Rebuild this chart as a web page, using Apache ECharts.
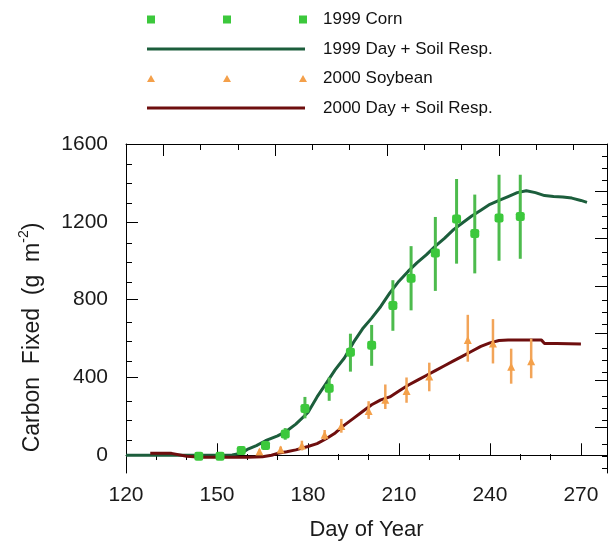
<!DOCTYPE html>
<html lang="en">
<head>
    <meta charset="UTF-8">
    <title>Carbon Fixed</title>
    <script src="https://cdn.jsdelivr.net/npm/echarts@6/dist/echarts.min.js"></script>
</head>
<body style="margin: 0">
<div id="container" style="width: 610px; height: 546px"></div>
<script>
    // 1999 corn observations (day, value, error bar low/high)
    var cornDay = [144, 151, 158, 166, 172.5, 179, 187, 194, 201, 208, 214, 222, 229, 235, 243, 250];
    var cornC = [-5, -5, 25, 50, 110, 240, 345, 530, 565, 770, 910, 1040, 1215, 1140, 1220, 1228];
    var cornLo = [-15, -15, 15, 30, 80, 190, 280, 430, 460, 640, 745, 845, 985, 935, 1000, 1010];
    var cornHi = [5, 5, 35, 70, 140, 300, 400, 625, 670, 900, 1075, 1225, 1420, 1340, 1442, 1442];

    // 2000 soybean observations
    var soyDay = [164, 171, 178, 185.5, 191, 200, 205.5, 212.5, 220, 232.7, 241, 247, 253.6];
    var soyC = [20, 30, 50, 105, 150, 228, 285, 330, 405, 592, 574, 455, 484];
    var soyLo = [10, 15, 25, 80, 116, 187, 238, 270, 329, 481, 472, 368, 396];
    var soyHi = [30, 45, 75, 130, 187, 278, 364, 400, 476, 722, 700, 548, 599];

    // modelled day + soil respiration curves
    var resp1999Day = [120, 125, 130, 135, 140, 145, 150, 155, 158, 160, 163, 166, 170, 173, 176, 180, 183, 186, 189, 192, 195, 198, 201, 204, 207, 210, 213, 216, 219, 222, 225, 228, 231, 234, 237, 240, 243, 246, 249, 252, 255, 258, 261, 264, 267, 270, 272];
    var resp1999C = [0, 0, 0, 0, 0, 0, 0, 2, 10, 30, 50, 75, 100, 125, 160, 220, 300, 370, 440, 500, 580, 650, 705, 765, 835, 895, 945, 990, 1030, 1075, 1115, 1160, 1195, 1230, 1260, 1290, 1310, 1330, 1350, 1360, 1350, 1335, 1330, 1328, 1322, 1310, 1300];
    var resp2000Day = [128, 135, 140, 145, 150, 155, 160, 165, 168, 170, 173, 176, 180, 183, 186, 189, 192, 195, 198, 201, 204, 207, 210, 213, 216, 219, 222, 225, 228, 231, 234, 237, 240, 243, 246, 250, 254, 257, 258, 262, 266, 270];
    var resp2000C = [10, 10, -5, -10, -10, -10, -10, -8, 0, 10, 18, 28, 45, 60, 85, 115, 155, 190, 225, 260, 285, 300, 330, 360, 385, 410, 435, 460, 485, 510, 535, 560, 578, 590, 592, 592, 592, 592, 575, 574, 573, 572];

    // tick values
    var xMajor = [120, 150, 180, 210, 240, 270];
    var xMinor = [130, 140, 160, 170, 190, 200, 220, 230, 250, 260];
    var yMajor = [0, 400, 800, 1200, 1600];
    var yMinor = [100, 200, 300, 500, 600, 700, 900, 1000, 1100, 1300, 1400, 1500];
    // the top and right frame ticks run on their own spacing
    var topMajor = [1, 4, 7, 10];
    var topMinor = [2, 3, 5, 6, 8, 9, 11, 12];
    var rightMajor = [4, 8, 12, 16, 20, 24];
    var rightMinor = [1, 2, 3, 5, 6, 7, 9, 10, 11, 13, 14, 15, 17, 18, 19, 21, 22, 23, 25, 26, 27];

    var font = 'Liberation Sans, Arial, sans-serif';

    function pairs(xs, ys) {
        return xs.map(function (x, i) { return [x, ys[i]]; });
    }

    function triples(xs, lo, hi) {
        return xs.map(function (x, i) { return [x, lo[i], hi[i]]; });
    }

    function errorBar(color, width) {
        return function (params, api) {
            var a = api.coord([api.value(0), api.value(1)]);
            var b = api.coord([api.value(0), api.value(2)]);
            return {
                type: 'line',
                shape: {x1: a[0], y1: a[1], x2: b[0], y2: b[1]},
                style: {stroke: color, lineWidth: width}
            };
        };
    }

    function frameAxis(grid, pos, min, max, ticks, len, line, inverse) {
        return {
            gridIndex: grid, type: 'value', position: pos, min: min, max: max, inverse: !!inverse,
            axisLine: {show: line, lineStyle: {color: '#000', width: 1}},
            axisTick: {show: true, inside: true, length: len, customValues: ticks, lineStyle: {color: '#000', width: 1}},
            axisLabel: {show: false},
            splitLine: {show: false}
        };
    }

    function plain(v) {
        return String(v);
    }

    var dom = document.getElementById('container');
    var myChart = echarts.init(dom);

    var bottom = frameAxis(0, 'bottom', 120, 278.6, xMajor, 12, true);
    bottom.axisLabel = {show: true, customValues: xMajor, formatter: plain, margin: 12, fontSize: 21, fontFamily: font, color: '#1a1a1a'};
    bottom.name = 'Day of Year';
    bottom.nameLocation = 'middle';
    bottom.nameGap = 46;
    bottom.nameTextStyle = {fontSize: 22, fontFamily: font, color: '#1a1a1a'};

    var left = frameAxis(0, 'left', -91, 1600, yMajor, 12, true);
    left.axisLabel = {show: true, customValues: yMajor, formatter: plain, margin: 18, fontSize: 21, fontFamily: font, color: '#1a1a1a'};
    left.name = '{n|Carbon  Fixed  (g  m}{s|-2}{n|)}';
    left.nameLocation = 'middle';
    left.nameGap = 82;
    left.nameTextStyle = {
        padding: [0, 58, 0, 0],
        rich: {
            n: {fontSize: 23, fontFamily: font, color: '#1a1a1a', lineHeight: 27, verticalAlign: 'bottom'},
            s: {fontSize: 14, fontFamily: font, color: '#1a1a1a', lineHeight: 27, verticalAlign: 'top'}
        }
    };

    var option = {
        animation: false,
        backgroundColor: '#fff',
        grid: [
            {left: 126, top: 144, width: 481, height: 334},
            {left: 126, top: 144, width: 481, height: 334}
        ],
        legend: {
            orient: 'vertical',
            left: 142,
            top: 6,
            itemWidth: 171,
            itemHeight: 10,
            itemGap: 12.5,
            textStyle: {fontSize: 17, fontFamily: font, color: '#111'},
            data: [
                {name: '1999 Corn', icon: 'path://M0,0h8v8h-8z M76,0h8v8h-8z M152,0h8v8h-8z M171,0',
                    itemStyle: {color: '#3cc83c', borderWidth: 0}},
                {name: '1999 Day + Soil Resp.', icon: 'path://M0,0h158v3h-158z M171,0',
                    itemStyle: {color: '#1c5e3c', borderWidth: 0}},
                {name: '2000 Soybean', icon: 'path://M4,0L8,7H0z M80,0L84,7H76z M156,0L160,7H152z M171,0',
                    itemStyle: {color: '#f4a04a', borderWidth: 0}},
                {name: '2000 Day + Soil Resp.', icon: 'path://M0,0h158v3h-158z M171,0',
                    itemStyle: {color: '#6e0e0e', borderWidth: 0}}
            ]
        },
        xAxis: [
            bottom,
            frameAxis(0, 'top', 0, 12.9, topMajor, 12, true),
            frameAxis(1, 'bottom', 120, 278.6, xMinor, 6, false),
            frameAxis(1, 'top', 0, 12.9, topMinor, 6, false)
        ],
        yAxis: [
            left,
            frameAxis(0, 'right', 0, 27.83, rightMajor, 12, true, true),
            frameAxis(1, 'left', -91, 1600, yMinor, 6, false),
            frameAxis(1, 'right', 0, 27.83, rightMinor, 5, false, true)
        ],
        series: [
            {
                name: '1999 Day + Soil Resp.', type: 'line', z: 2,
                data: pairs(resp1999Day, resp1999C),
                symbol: 'none', color: '#1c5e3c',
                lineStyle: {color: '#1c5e3c', width: 3}
            },
            {
                name: '2000 Day + Soil Resp.', type: 'line', z: 2,
                data: pairs(resp2000Day, resp2000C),
                symbol: 'none', color: '#6e0e0e',
                lineStyle: {color: '#6e0e0e', width: 3}
            },
            {
                name: 'corn error', type: 'custom', z: 3,
                data: triples(cornDay, cornLo, cornHi),
                encode: {x: 0, y: [1, 2]},
                renderItem: errorBar('#4dbb4d', 3)
            },
            {
                name: 'soy error', type: 'custom', z: 3,
                data: triples(soyDay, soyLo, soyHi),
                encode: {x: 0, y: [1, 2]},
                renderItem: errorBar('#f2a458', 2.5)
            },
            {
                name: '1999 Corn', type: 'scatter', z: 4,
                data: pairs(cornDay, cornC),
                symbol: 'roundRect', symbolSize: 9,
                itemStyle: {color: '#3cc83c', opacity: 1}
            },
            {
                name: '2000 Soybean', type: 'scatter', z: 4,
                data: pairs(soyDay, soyC),
                symbol: 'triangle', symbolSize: 8,
                itemStyle: {color: '#f4a04a', opacity: 1}
            }
        ]
    };

    if (option && typeof option === 'object') {
        myChart.setOption(option, true);
    }
</script>
</body>
</html>
